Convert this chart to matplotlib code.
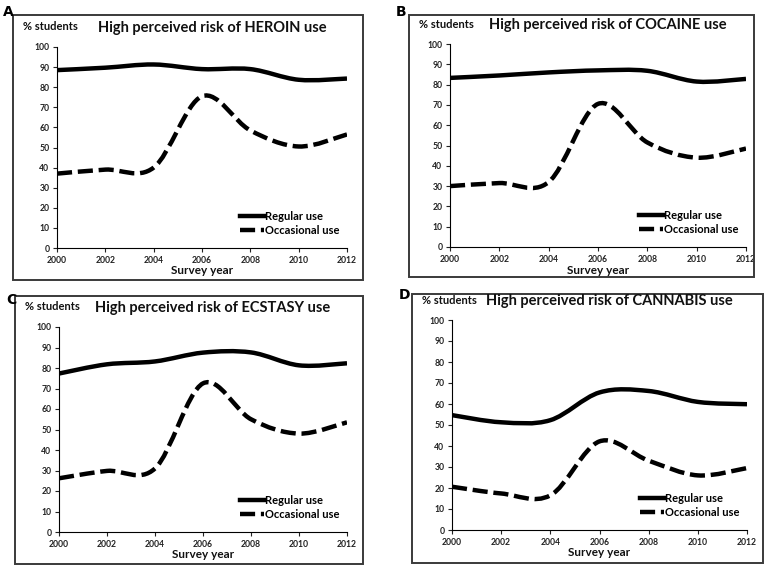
import numpy as np
import matplotlib
matplotlib.use('Agg')
from matplotlib import pyplot as plt
from matplotlib.path import Path
from matplotlib.patches import PathPatch, Rectangle
from matplotlib.lines import Line2D

plt.rcParams['font.family'] = ['Lato', 'DejaVu Sans']
plt.rcParams['font.weight'] = 'bold'

W, H = 767, 567

years = [2000, 2002, 2004, 2006, 2008, 2010, 2012]

# values, one point per survey
heroin_regular = [88.5, 89.7, 91.3, 89.0, 89.0, 83.7, 84.3]
heroin_occasional = [37.0, 39.0, 40.0, 75.5, 58.5, 50.5, 56.5]
cocaine_regular = [83.3, 84.5, 86.0, 87.0, 86.8, 81.5, 82.8]
cocaine_occasional = [30.0, 31.5, 32.0, 70.5, 51.5, 44.0, 48.5]
ecstasy_regular = [77.3, 81.8, 83.2, 87.5, 87.6, 81.3, 82.3]
ecstasy_occasional = [26.2, 29.8, 31.0, 72.5, 55.0, 48.0, 53.5]
cannabis_regular = [54.7, 51.3, 52.3, 65.5, 66.2, 61.0, 59.9]
cannabis_occasional = [20.6, 17.4, 16.5, 42.2, 33.0, 26.0, 29.5]

panel_letters = ['A', 'B', 'C', 'D']
drugs = ['HEROIN', 'COCAINE', 'ECSTASY', 'CANNABIS']
regular = [heroin_regular, cocaine_regular, ecstasy_regular, cannabis_regular]
occasional = [heroin_occasional, cocaine_occasional, ecstasy_occasional, cannabis_occasional]

# pixel boxes: frame (x0, y0, x1, y1), axes (x0, y0, x1, y1), letter position
frames = [(13, 15, 363, 280), (409, 15, 754, 277), (15, 296, 363, 564), (412, 294, 763, 563)]
axboxes = [(57, 47, 347, 248), (450, 44, 746, 247), (59, 327, 347, 532), (452, 320, 747, 530)]
letters = [(3, 12), (396, 12), (6, 300), (399, 295)]


def fx(x):
    return x / W


def fy(y):
    return 1 - y / H


def smooth_path(xs, ys):
    # Excel style smoothed line: cubic bezier through each point
    p = np.column_stack([xs, ys]).astype(float)
    n = len(p)
    verts = [p[0]]
    codes = [Path.MOVETO]
    for i in range(n - 1):
        prev = p[i - 1] if i > 0 else p[i]
        nxt = p[i + 2] if i + 2 < n else p[i + 1]
        c1 = p[i] + (p[i + 1] - prev) / 6
        c2 = p[i + 1] - (nxt - p[i]) / 6
        verts += [c1, c2, p[i + 1]]
        codes += [Path.CURVE4] * 3
    return Path(verts, codes)


fig = plt.figure(figsize=(W / 100, H / 100), dpi=100)
dash = (0, (3.4, 1.3))

for k in range(4):
    f = frames[k]
    fig.add_artist(Rectangle((fx(f[0]), fy(f[3])), fx(f[2] - f[0]), (f[3] - f[1]) / H,
                             transform=fig.transFigure, fill=False, edgecolor='#3a3a3a', lw=1.4))
    b = axboxes[k]
    ax = fig.add_axes([fx(b[0]), fy(b[3]), fx(b[2] - b[0]), (b[3] - b[1]) / H])
    ax.set_xlim(2000, 2012)
    ax.set_ylim(0, 100)
    ax.spines['top'].set_visible(False)
    ax.spines['right'].set_visible(False)
    ax.spines['left'].set_linewidth(0.8)
    ax.spines['bottom'].set_linewidth(0.8)
    ax.set_xticks(years)
    ax.set_yticks(range(0, 101, 10))
    ax.tick_params(length=3, width=0.8, labelsize=6.2, pad=2.5, colors='#222222')
    for lab in ax.get_xticklabels() + ax.get_yticklabels():
        lab.set_fontweight('bold')

    ax.add_patch(PathPatch(smooth_path(years, regular[k]), fill=False, lw=3.2, color='black',
                           capstyle='butt'))
    ax.add_patch(PathPatch(smooth_path(years, occasional[k]), fill=False, lw=3.2, color='black',
                           linestyle=dash, capstyle='butt'))

    handles = [Line2D([], [], color='black', lw=3.2),
               Line2D([], [], color='black', lw=3.2, linestyle=dash)]
    leg = ax.legend(handles, ['Regular use', 'Occasional use'], loc='lower right',
                    bbox_to_anchor=(1.0, 0.02), frameon=False, fontsize=8,
                    handlelength=2.1, handletextpad=0.1, labelspacing=0.3, borderpad=0.2)
    for t in leg.get_texts():
        t.set_fontweight('bold')

    cx = (b[0] + b[2]) / 2
    fig.text(fx(cx + 10), fy(b[1] - 19), 'High perceived risk of %s use' % drugs[k],
             ha='center', va='center', fontsize=10.5, fontweight='bold', color='#111111')
    fig.text(fx(f[0] + 10), fy(b[1] - 20), '% students', ha='left', va='center',
             fontsize=8, fontweight='bold', color='#111111')
    fig.text(fx(cx), fy(b[3] + 23), 'Survey year', ha='center', va='center',
             fontsize=8.5, fontweight='bold', color='#111111')
    fig.text(fx(letters[k][0]), fy(letters[k][1]), panel_letters[k], ha='left', va='center',
             fontsize=10, fontweight='bold', family='DejaVu Sans')

fig.savefig('out.png', dpi=100)
